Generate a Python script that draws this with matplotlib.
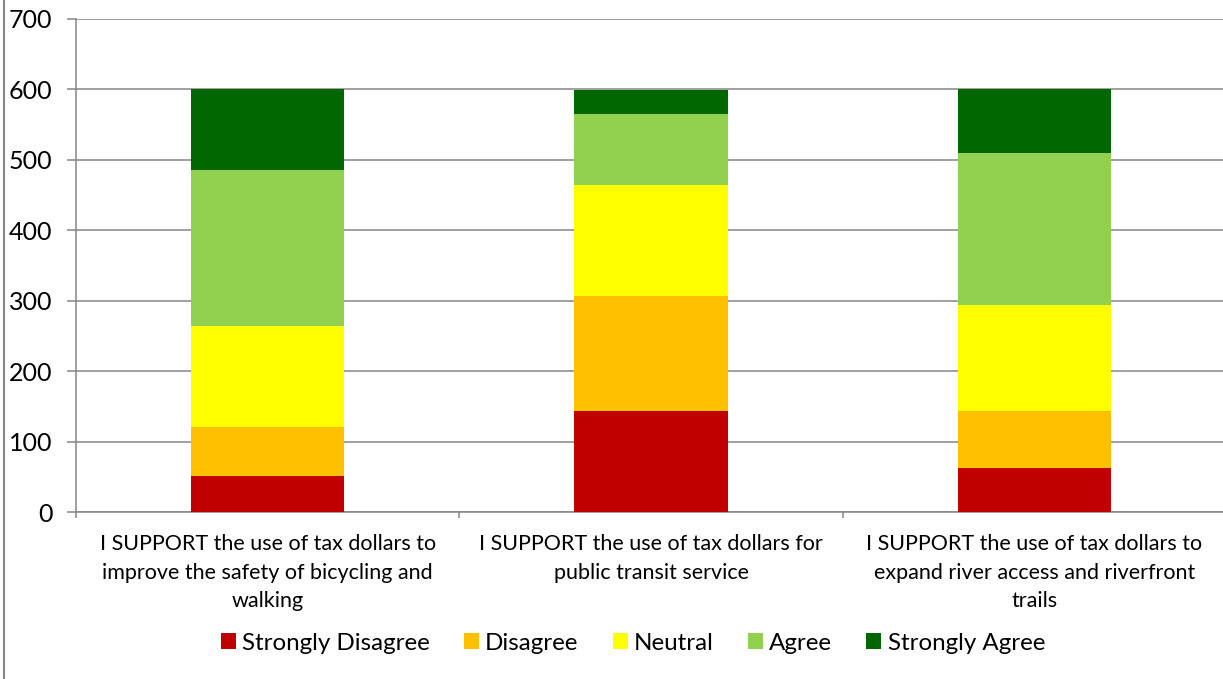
import matplotlib
matplotlib.use("Agg")
import matplotlib.pyplot as plt
from matplotlib.patches import Patch
from matplotlib.lines import Line2D
import numpy as np

plt.rcParams['font.family'] = ['Lato', 'DejaVu Sans']

categories = [
    "I SUPPORT the use of tax dollars to\nimprove the safety of bicycling and\nwalking",
    "I SUPPORT the use of tax dollars for\npublic transit service",
    "I SUPPORT the use of tax dollars to\nexpand river access and riverfront\ntrails",
]
series_names = ["Strongly Disagree", "Disagree", "Neutral", "Agree", "Strongly Agree"]
strongly_disagree = [51, 143, 62]
disagree = [70, 164, 81]
neutral = [143, 158, 151]
agree = [221, 100, 216]
strongly_agree = [116, 34, 90]
yticks = [0, 100, 200, 300, 400, 500, 600, 700]

colors = ["#C00000", "#FFC000", "#FFFF00", "#92D050", "#006600"]
series = [strongly_disagree, disagree, neutral, agree, strongly_agree]

W, H = 1223, 679
fig = plt.figure(figsize=(W / 100, H / 100), dpi=100)
ax = fig.add_axes([76 / W, 1 - 512 / H, (1226 - 76) / W, (512 - 19) / H])

x = np.arange(len(categories))
bottom = np.zeros(len(categories))
for vals, col in zip(series, colors):
    ax.bar(x, vals, width=0.4, bottom=bottom, color=col, edgecolor='none', zorder=3)
    bottom += np.array(vals)

grid_col = "#868686"
ax.set_xlim(-0.5, 2.5)
ax.set_ylim(0, 700)
ax.set_yticks(yticks)
ax.set_yticklabels([str(v) for v in yticks])
ax.yaxis.grid(True, color=grid_col, linewidth=1.1, zorder=0)
ax.set_axisbelow(True)
for s in ['top', 'right']:
    ax.spines[s].set_visible(False)
for s in ['left', 'bottom']:
    ax.spines[s].set_color(grid_col)
    ax.spines[s].set_linewidth(1.1)

fs = 15.5
ax.tick_params(axis='y', length=6.5, width=1.1, color=grid_col, pad=10.5, labelsize=18, labelcolor='black')
ax.set_xticks(x)
ax.set_xticklabels(categories, fontsize=fs, linespacing=1.52)
ax.tick_params(axis='x', which='major', length=0, pad=16)
ax.set_xticks([-0.5, 0.5, 1.5, 2.5], minor=True)
ax.tick_params(axis='x', which='minor', length=4.5, width=1.1, color=grid_col)

handles = [Patch(facecolor=c, edgecolor='none', label=n) for c, n in zip(colors, series_names)]
fig.legend(handles=handles, loc='center', bbox_to_anchor=(633 / W, 1 - 643 / H), ncol=5,
           frameon=False, fontsize=17.4, handlelength=0.62, handleheight=0.62,
           handletextpad=0.25, columnspacing=1.42, borderaxespad=0)

fig.add_artist(Line2D([3.5 / W, 3.5 / W], [0, 1], color=grid_col, linewidth=1.5,
                      transform=fig.transFigure))

fig.savefig("out.png", dpi=100)
